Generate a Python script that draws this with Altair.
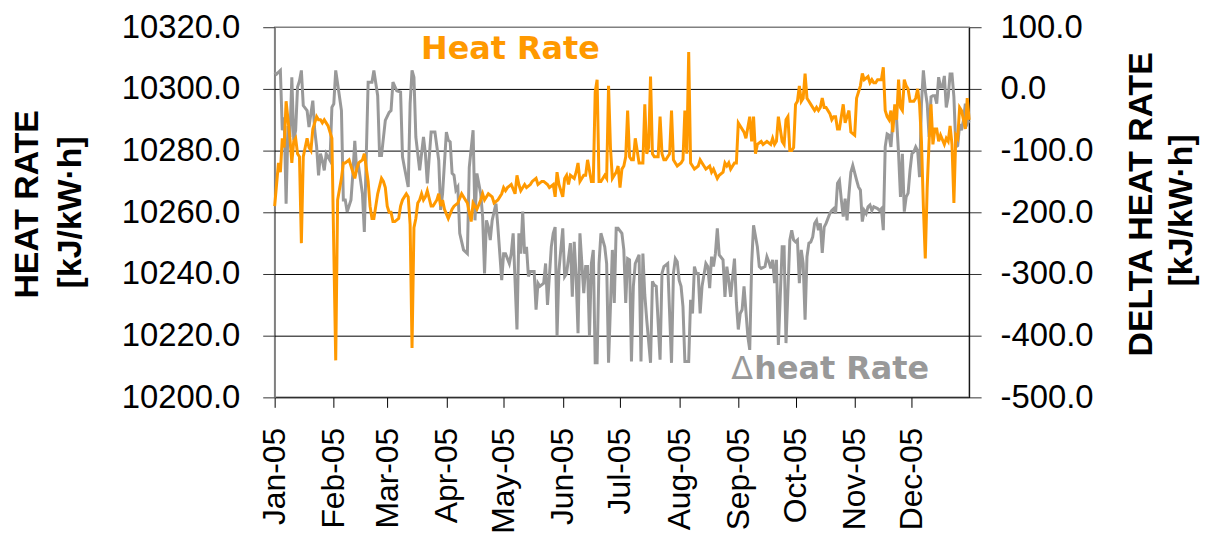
import altair as alt
import pandas as pd

# ---------------- data ----------------
# day offsets from 2005-01-01
hr_days = [0,2,3,4,5,6,8,9,10,11,12,13,14,15,16,17,18,19,20,21,22,23,24,25,26,27,28,30,32,33,35,36,37,39,40,41,42,43,44,46,47,49,50,51,52,53,54,56,57,58,59,60,61,62,63,65,66,67,68,69,70,71,72,73,74,75,76,77,78,79,80,82,83,84,85,86,87,88,89,91,93,94,96,98,100,101,103,104,106,108,109,110,112,114,115,117,119,120,121,122,124,126,127,128,129,131,132,134,135,137,138,140,141,143,144,146,147,148,149,151,152,153,154,155,157,158,159,160,162,163,164,166,167,168,169,170,171,173,174,175,176,177,179,180,181,182,183,184,185,186,187,188,189,191,192,193,194,195,196,197,198,199,201,202,203,204,205,207,208,209,210,211,213,214,215,216,217,218,219,220,222,223,225,226,228,229,230,232,233,235,236,237,238,239,241,242,243,244,246,247,249,250,251,252,253,255,256,258,260,261,262,263,264,266,267,268,269,270,271,272,273,274,275,276,277,278,279,280,281,283,284,285,286,287,288,289,291,292,293,294,295,296,298,299,300,301,302,304,305,306,307,308,309,311,312,313,314,315,316,318,319,320,321,322,323,324,325,326,327,328,329,330,331,332,333,335,336,337,338,339,340,341,342,343,344,345,346,347,348,349,351,352,353,354,355,356,357,358,359,360,361,362,363,364]
hr_vals = [10262,10276,10273,10284,10281,10296,10284,10276,10283,10284,10279,10278,10250,10278,10281,10284,10281,10280,10287,10289,10291,10290,10290,10289,10290,10289,10288,10284,10212,10264,10271,10276,10276,10277,10275,10273,10271,10274,10276,10277,10279,10270,10262,10258,10258,10262,10266,10271,10270,10268,10262,10260,10260,10257,10257,10258,10262,10264,10265,10266,10265,10256,10216,10255,10258,10263,10264,10266,10264,10265,10267,10262,10262,10263,10264,10266,10262,10264,10261,10258,10261,10262,10263,10266,10264,10263,10257,10263,10261,10264,10266,10264,10266,10265,10263,10264,10266,10268,10267,10268,10269,10266,10272,10269,10267,10269,10268,10269,10270,10271,10269,10270,10270,10269,10268,10269,10265,10273,10269,10265,10271,10272,10269,10272,10271,10273,10276,10270,10272,10272,10277,10270,10270,10299,10303,10270,10270,10272,10271,10301,10281,10271,10273,10275,10268,10274,10275,10278,10293,10278,10277,10277,10284,10276,10276,10276,10295,10279,10281,10304,10279,10278,10278,10291,10279,10277,10277,10279,10293,10277,10276,10275,10276,10277,10293,10279,10312,10276,10275,10274,10275,10277,10275,10274,10275,10273,10274,10271,10272,10273,10276,10275,10276,10274,10276,10276,10289,10288,10286,10284,10291,10283,10291,10279,10282,10283,10282,10283,10282,10284,10282,10283,10291,10283,10282,10290,10291,10280,10280,10281,10295,10296,10301,10296,10297,10305,10297,10296,10295,10293,10294,10293,10294,10297,10294,10294,10292,10290,10291,10291,10287,10287,10295,10289,10291,10293,10286,10285,10297,10299,10301,10305,10303,10304,10302,10303,10302,10302,10303,10303,10307,10293,10291,10290,10293,10286,10295,10290,10303,10294,10293,10303,10301,10300,10296,10296,10297,10300,10295,10283,10262,10245,10268,10283,10295,10282,10287,10287,10283,10285,10282,10284,10283,10288,10282,10263,10285,10284,10294,10293,10290,10287,10297,10290]

dh_days = [0,1,3,4,5,6,7,8,9,10,11,12,13,14,15,17,18,19,20,21,22,23,24,25,26,27,29,30,31,32,34,35,36,37,38,40,41,42,43,44,46,47,49,51,52,54,55,56,58,60,61,62,64,66,67,68,70,71,72,73,74,76,78,79,80,82,84,86,87,88,90,91,92,93,94,95,96,97,99,101,102,104,105,106,108,109,110,111,112,113,114,116,117,119,120,121,123,124,125,127,128,129,130,131,132,133,134,136,137,138,139,141,142,143,145,146,147,148,149,151,152,153,155,156,157,158,159,160,162,163,164,165,166,167,168,169,170,171,173,174,175,177,178,179,180,182,183,184,185,186,187,188,189,191,192,193,194,195,197,198,199,200,202,203,204,206,208,209,210,211,212,213,214,215,216,217,218,219,220,221,222,223,224,226,227,228,229,230,231,232,233,235,236,237,238,239,241,242,243,244,245,246,248,249,250,251,253,254,255,257,258,259,260,261,262,263,264,266,267,268,270,271,272,273,274,275,276,277,278,279,280,281,282,283,284,285,286,287,288,289,291,292,293,294,295,296,297,298,299,300,301,302,303,305,306,307,308,309,310,311,312,313,314,316,317,318,319,320,321,322,323,324,325,326,327,328,329,330,331,332,333,334,335,336,337,338,339,340,341,342,343,344,345,346,347,348,349,350,351,352,353,354,355,356,357,358,359,360,361,362,363,364]
dh_vals = [27,24,30,-67,-46,-186,-60,-78,19,-83,-67,3,13,30,-27,-35,-62,-40,-19,-67,-94,-140,-105,-116,-132,-105,-116,-30,-24,30,-13,-35,-180,-180,-199,-180,-137,-84,-132,-126,-170,-232,11,11,30,-11,-108,-108,-51,-38,-35,11,-3,-5,-110,-127,-159,-24,30,19,-78,-132,-78,-105,-153,-70,-70,-116,-196,-170,-70,-83,-86,-137,-140,-164,-159,-234,-261,-267,-127,-67,-213,-137,-170,-207,-299,-213,-224,-245,-213,-186,-224,-310,-267,-267,-283,-267,-234,-390,-234,-267,-199,-267,-256,-304,-296,-296,-358,-315,-320,-315,-283,-350,-256,-234,-224,-401,-294,-226,-304,-299,-250,-337,-248,-304,-396,-234,-331,-288,-288,-401,-283,-261,-444,-444,-283,-234,-256,-283,-444,-261,-347,-226,-226,-234,-261,-347,-275,-277,-442,-320,-283,-269,-442,-267,-334,-374,-444,-312,-318,-320,-439,-299,-288,-283,-444,-299,-275,-280,-310,-320,-353,-442,-442,-442,-342,-364,-288,-299,-299,-364,-320,-283,-288,-323,-272,-288,-267,-226,-269,-277,-337,-288,-310,-337,-275,-347,-390,-364,-358,-320,-401,-423,-283,-221,-256,-288,-291,-288,-272,-280,-291,-277,-315,-277,-415,-256,-256,-412,-245,-229,-245,-248,-245,-315,-261,-283,-374,-272,-250,-248,-240,-218,-213,-229,-218,-266,-224,-218,-202,-197,-194,-202,-153,-148,-180,-207,-178,-213,-170,-135,-124,-148,-159,-164,-215,-197,-202,-191,-188,-197,-191,-194,-197,-194,-229,-94,-73,-75,-94,-51,-30,-51,-105,-175,-105,-199,-175,-169,-132,-105,-102,-94,-100,-143,-24,30,-3,-24,-78,-13,-11,-11,-24,19,3,3,21,-30,-13,24,24,-13,-94,-92,-57,-67,-51,-24,-57,-51]

left_ticks = [10200, 10220, 10240, 10260, 10280, 10300, 10320]
right_ticks = [-500, -400, -300, -200, -100, 0, 100]

start = pd.Timestamp("2005-01-01")
hr_df = pd.DataFrame({"date": start + pd.to_timedelta(hr_days, unit="D"), "hr": hr_vals})
dh_df = pd.DataFrame({"date": start + pd.to_timedelta(dh_days, unit="D"), "dh": dh_vals})
grid_df = pd.DataFrame({"g": left_ticks[1:-1]})
one = pd.DataFrame({"k": [0]})

ORANGE = "#FF9900"
GRAY = "#999999"
FONT = "Liberation Sans"
LEFT_DOMAIN = [10200, 10320]

month_ticks = [alt.DateTime(year=2005, month=m, date=1) for m in range(1, 13)]
x_axis = alt.Axis(values=month_ticks, format="%b-%y", labelAngle=270, labelAlign="right",
                  labelBaseline="middle", tickSize=10, labelPadding=20, labelFontSize=32,
                  labelFont=FONT, labelColor="black", grid=False, domainColor="black",
                  tickColor="black", title=None, labelOverlap=False, labelFlush=False)
x_enc = alt.X("date:T", axis=x_axis,
              scale=alt.Scale(domain=[alt.DateTime(year=2005, month=1, date=1),
                                      alt.DateTime(year=2005, month=12, date=31)], nice=False))

lbl = "replace(format(datum.value, '.1f'), '\u2212', '-')"

left_axis = alt.Axis(orient="left", values=left_ticks, labelExpr=lbl, title=None,
                     grid=False, domainColor="#808080", domainWidth=1.5,
                     tickColor="#333333", tickSize=12,
                     labelPadding=23, labelFont=FONT, labelFontSize=33, labelColor="black")
right_axis = alt.Axis(orient="right", values=right_ticks, labelExpr=lbl, title=None,
                      grid=False, domainColor="#000000", tickColor="#333333", tickSize=12,
                      labelPadding=19, labelFont=FONT, labelFontSize=33, labelColor="black")

grid_rules = alt.Chart(grid_df).mark_rule(color="black", strokeWidth=1, yOffset=0.5).encode(
    y=alt.Y("g:Q", axis=None, scale=alt.Scale(domain=LEFT_DOMAIN, nice=False, zero=False)),
)
gray_line = alt.Chart(dh_df).mark_line(color=GRAY, strokeWidth=3).encode(
    x=x_enc,
    y=alt.Y("dh:Q", axis=right_axis, scale=alt.Scale(domain=[-500, 100], nice=False, zero=False)),
)
orange_line = alt.Chart(hr_df).mark_line(color=ORANGE, strokeWidth=3).encode(
    x=x_enc,
    y=alt.Y("hr:Q", axis=left_axis, scale=alt.Scale(domain=LEFT_DOMAIN, nice=False, zero=False)),
)

def txt(text, x, y, size, color, weight="bold", font=FONT, angle=0, align="center", baseline="middle"):
    return alt.Chart(one).mark_text(font=font, fontSize=size, fontWeight=weight, color=color,
                                    angle=angle, align=align, baseline=baseline).encode(
        x=alt.value(x), y=alt.value(y), text=alt.value(text))

annotations = [
    txt("Heat Rate", 237, 32, 32, ORANGE, font="DejaVu Sans", baseline="alphabetic"),
    txt("\u0394", 459, 354, 32, GRAY, weight="normal", font="DejaVu Sans", align="left", baseline="alphabetic"),
    txt("heat Rate", 482, 354, 32, GRAY, font="DejaVu Sans", align="left", baseline="alphabetic"),
    txt("HEAT RATE", -248, 178, 34, "black", angle=270),
    txt("[kJ/kW\u00b7h]", -205, 186, 34, "black", angle=270),
    txt("DELTA HEAT RATE", 872, 178, 34, "black", angle=270),
    txt("[kJ/kW\u00b7h]", 912, 184, 34, "black", angle=270),
]

chart = alt.layer(grid_rules, gray_line, orange_line, *annotations).resolve_scale(
    y="independent"
).properties(
    width=698, height=372,
    padding={"left": 268, "top": 18, "right": 232, "bottom": 137},
    autosize=alt.AutoSizeParams(type="none"),
).configure_view(stroke="#808080", strokeWidth=1.5)

chart.save("out.html", embed_options={"renderer": "svg", "actions": False})
